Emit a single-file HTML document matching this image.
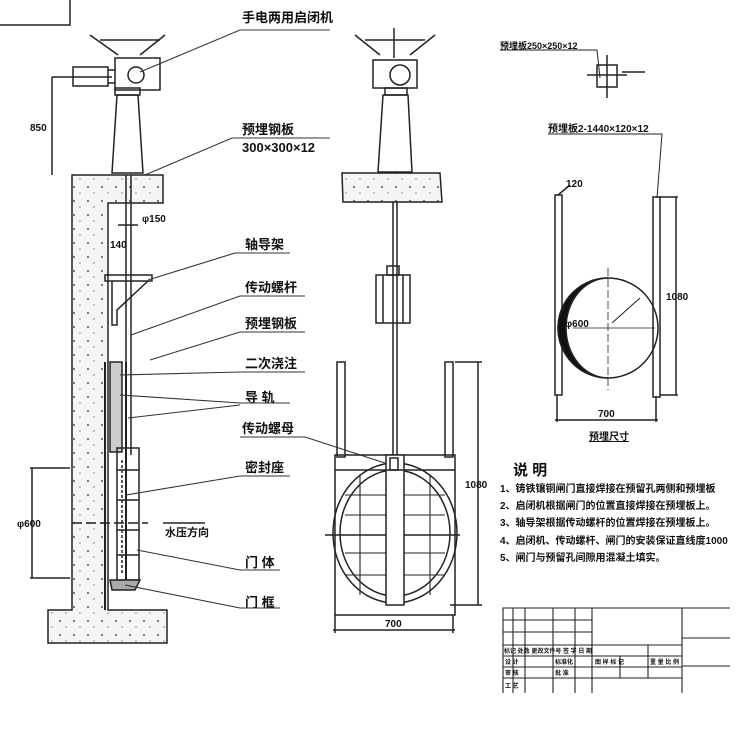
<!DOCTYPE html>
<html><head><meta charset="utf-8"><style>
html,body{margin:0;padding:0;background:#fff;}
svg{display:block}
text{font-family:"Liberation Sans","Noto Sans CJK SC",sans-serif;fill:#111;font-weight:bold}
</style></head><body>
<svg width="750" height="733" viewBox="0 0 750 733" xmlns="http://www.w3.org/2000/svg" stroke="#222" fill="none" stroke-width="1.5">
<defs>
<pattern id="conc" width="14" height="14" patternUnits="userSpaceOnUse">
<rect width="14" height="14" fill="#f5f5f5" stroke="none"/>
<circle cx="4" cy="5" r="1" fill="#555" stroke="none"/><circle cx="10" cy="11" r="0.7" fill="#777" stroke="none"/>
</pattern>
</defs>
<rect x="0" y="0" width="750" height="733" fill="#fff" stroke="none"/>
<polyline points="0,25 70,25 70,0"/>

<!-- LEFT DRAWING -->
<line x1="90" y1="35" x2="118" y2="55"/><line x1="165" y1="35" x2="140" y2="55"/>
<line x1="100" y1="40" x2="160" y2="40"/>
<rect x="115" y="58" width="45" height="32"/>
<rect x="73" y="67" width="35" height="19"/>
<line x1="108" y1="70" x2="115" y2="70"/><line x1="108" y1="83" x2="115" y2="83"/>
<circle cx="136" cy="75" r="8"/>
<polygon points="117,95 138,95 143,173 112,173"/>
<rect x="115" y="88" width="25" height="7"/>
<line x1="52" y1="77" x2="52" y2="175"/><line x1="52" y1="77" x2="112" y2="77"/>
<text x="30" y="131" font-size="10" stroke="none">850</text>
<path d="M72,175 L163,175 L163,203 L108,203 L108,610 L167,610 L167,643 L48,643 L48,610 L72,610 Z" fill="url(#conc)" stroke="#222"/>
<line x1="126" y1="175" x2="126" y2="455"/><line x1="131" y1="175" x2="131" y2="455"/>
<text x="142" y="222" font-size="10" stroke="none">φ150</text>
<text x="110" y="248" font-size="10" stroke="none">140</text>
<line x1="118" y1="225" x2="138" y2="225"/>
<rect x="105" y="275" width="47" height="6"/>
<polyline points="112,281 112,325 117,325 117,310 148,281"/>
<rect x="110" y="362" width="12" height="90" fill="#ccc"/>
<line x1="126" y1="362" x2="126" y2="590" stroke-width="2"/>
<rect x="117" y="448" width="22" height="132"/>
<line x1="122" y1="460" x2="122" y2="575" stroke-dasharray="3,2"/>
<line x1="117" y1="470" x2="139" y2="470"/><line x1="117" y1="500" x2="139" y2="500"/>
<line x1="117" y1="530" x2="139" y2="530"/><line x1="117" y1="555" x2="139" y2="555"/>
<path d="M110,580 L140,580 L135,590 L112,590 Z" fill="#aaa"/>
<line x1="105" y1="362" x2="105" y2="610" stroke-width="2"/>
<line x1="32" y1="468" x2="32" y2="578"/><line x1="30" y1="468" x2="70" y2="468"/><line x1="30" y1="578" x2="70" y2="578"/>
<line x1="72" y1="523" x2="148" y2="523" stroke-dasharray="10,4"/>
<text x="17" y="527" font-size="10" stroke="none">φ600</text>
<g font-size="13" stroke="none">
<text x="242" y="22">手电两用启闭机</text>
<text x="242" y="134">预埋钢板</text>
<text x="242" y="152">300×300×12</text>
<text x="245" y="249">轴导架</text>
<text x="245" y="292">传动螺杆</text>
<text x="245" y="328">预埋钢板</text>
<text x="245" y="368">二次浇注</text>
<text x="245" y="402">导  轨</text>
<text x="242" y="433">传动螺母</text>
<text x="245" y="472">密封座</text>
<text x="245" y="567">门  体</text>
<text x="245" y="607">门  框</text>
</g>
<text x="165" y="536" font-size="11" stroke="none">水压方向</text>
<line x1="163" y1="523" x2="205" y2="523"/>
<g stroke="#333" stroke-width="1.1">
<polyline points="140,72 240,30 330,30"/>
<polyline points="145,175 232,138 330,138"/>
<polyline points="148,280 235,253 290,253"/>
<polyline points="131,335 240,296 305,296"/>
<polyline points="150,360 240,332 305,332"/>
<polyline points="120,375 240,372 305,372"/>
<polyline points="120,395 240,403 290,403"/>
<polyline points="128,418 240,405"/>
<polyline points="240,437 305,437 385,463"/>
<polyline points="126,495 240,476 290,476"/>
<polyline points="137,550 240,570 280,570"/>
<polyline points="125,585 240,608 280,608"/>
</g>

<!-- MIDDLE DRAWING -->
<line x1="355" y1="35" x2="380" y2="55"/><line x1="435" y1="35" x2="410" y2="55"/>
<line x1="365" y1="40" x2="425" y2="40"/>
<line x1="394" y1="28" x2="394" y2="58"/>
<rect x="373" y="60" width="44" height="28"/>
<circle cx="400" cy="75" r="10"/>
<polygon points="383,95 408,95 412,172 378,172"/>
<rect x="385" y="88" width="22" height="7"/>
<path d="M342,173 L440,173 L442,202 L343,202 Z" fill="url(#conc)"/>
<line x1="393" y1="202" x2="393" y2="458"/><line x1="397" y1="202" x2="397" y2="458"/>
<rect x="376" y="275" width="34" height="48"/>
<line x1="383" y1="275" x2="383" y2="323"/><line x1="403" y1="275" x2="403" y2="323"/>
<rect x="387" y="266" width="12" height="9"/>
<rect x="337" y="362" width="8" height="95"/>
<rect x="445" y="362" width="8" height="95"/>
<rect x="335" y="455" width="120" height="160"/>
<ellipse cx="395" cy="533" rx="62" ry="70"/>
<ellipse cx="395" cy="533" rx="55" ry="63"/>
<g stroke-width="1.1">
<line x1="345" y1="495" x2="445" y2="495"/><line x1="345" y1="515" x2="445" y2="515"/>
<line x1="345" y1="553" x2="445" y2="553"/><line x1="345" y1="575" x2="445" y2="575"/>
<line x1="360" y1="475" x2="360" y2="595"/><line x1="430" y1="475" x2="430" y2="595"/>
</g>
<line x1="325" y1="535" x2="460" y2="535"/>
<rect x="386" y="455" width="18" height="150" fill="#fff"/>
<rect x="390" y="458" width="8" height="12"/>
<line x1="335" y1="470" x2="455" y2="470"/>
<line x1="478" y1="362" x2="478" y2="605"/><line x1="455" y1="362" x2="482" y2="362"/><line x1="450" y1="605" x2="482" y2="605"/>
<text x="465" y="488" font-size="10" stroke="none">1080</text>
<line x1="333" y1="630" x2="455" y2="630"/><line x1="335" y1="615" x2="335" y2="633"/><line x1="453" y1="615" x2="453" y2="633"/>
<text x="385" y="627" font-size="10" stroke="none">700</text>

<!-- RIGHT DRAWING -->
<text x="500" y="49" font-size="9" stroke="none">预埋板250×250×12</text>
<polyline points="500,50 597,50 600,78" stroke-width="1"/>
<rect x="597" y="65" width="20" height="22"/>
<line x1="587" y1="75" x2="627" y2="75"/><line x1="607" y1="55" x2="607" y2="98"/>
<line x1="622" y1="72" x2="645" y2="72"/>
<text x="548" y="132" font-size="10" stroke="none">预埋板2-1440×120×12</text>
<polyline points="548,134 662,134 657,198" stroke-width="1"/>
<rect x="555" y="195" width="7" height="200"/>
<rect x="653" y="197" width="7" height="200"/>
<line x1="558" y1="195" x2="570" y2="185"/>
<text x="566" y="187" font-size="10" stroke="none">120</text>
<line x1="676" y1="197" x2="676" y2="395"/><line x1="660" y1="197" x2="678" y2="197"/><line x1="660" y1="395" x2="678" y2="395"/>
<text x="666" y="300" font-size="10" stroke="none">1080</text>
<circle cx="608" cy="328" r="50"/>
<path d="M608,278 A50,50 0 0 0 608,378 A42,50 0 0 1 608,278 Z" fill="#111"/>
<line x1="608" y1="268" x2="608" y2="390" stroke-dasharray="8,3" stroke-width="0.8"/>
<line x1="573" y1="328" x2="655" y2="328" stroke-width="0.8"/>
<line x1="612" y1="323" x2="640" y2="298" stroke-width="1"/>
<text x="565" y="327" font-size="10" stroke="none">φ600</text>
<line x1="557" y1="395" x2="557" y2="422"/><line x1="656" y1="397" x2="656" y2="422"/>
<line x1="555" y1="420" x2="658" y2="420"/>
<text x="598" y="417" font-size="10" stroke="none">700</text>
<text x="589" y="440" font-size="10" stroke="none" text-decoration="underline">预埋尺寸</text>
<text x="513" y="475" font-size="15" stroke="none">说  明</text>
<g font-size="10" stroke="none">
<text x="500" y="492">1、铸铁镶铜闸门直接焊接在预留孔两侧和预埋板</text>
<text x="500" y="509">2、启闭机根据闸门的位置直接焊接在预埋板上。</text>
<text x="500" y="526">3、轴导架根据传动螺杆的位置焊接在预埋板上。</text>
<text x="500" y="544">4、启闭机、传动螺杆、闸门的安装保证直线度1000</text>
<text x="500" y="561">5、闸门与预留孔间隙用混凝土填实。</text>
</g>
<g stroke-width="1.1">
<polyline points="503,693 503,608 730,608"/>
<line x1="503" y1="620" x2="592" y2="620"/><line x1="503" y1="632" x2="592" y2="632"/>
<line x1="503" y1="645" x2="682" y2="645"/><line x1="503" y1="656" x2="682" y2="656"/>
<line x1="682" y1="638" x2="730" y2="638"/><line x1="682" y1="666" x2="730" y2="666"/>
<line x1="503" y1="667" x2="682" y2="667"/><line x1="503" y1="678" x2="682" y2="678"/>
<line x1="513" y1="608" x2="513" y2="693"/><line x1="525" y1="608" x2="525" y2="693"/>
<line x1="553" y1="608" x2="553" y2="693"/><line x1="575" y1="608" x2="575" y2="693"/>
<line x1="592" y1="608" x2="592" y2="693"/><line x1="682" y1="608" x2="682" y2="693"/>
<line x1="620" y1="656" x2="620" y2="678"/><line x1="648" y1="645" x2="648" y2="678"/>
</g>
<g font-size="6" stroke="none">
<text x="504" y="653">标记 处数 更改文件号 签 字 日 期</text>
<text x="595" y="664">图 样 标 记</text><text x="650" y="664">重 量 比 例</text>
<text x="505" y="664">设 计</text><text x="555" y="664">标准化</text>
<text x="505" y="675">审 核</text><text x="555" y="675">批 准</text>
<text x="505" y="688">工 艺</text>
</g>
</svg>
</body></html>
